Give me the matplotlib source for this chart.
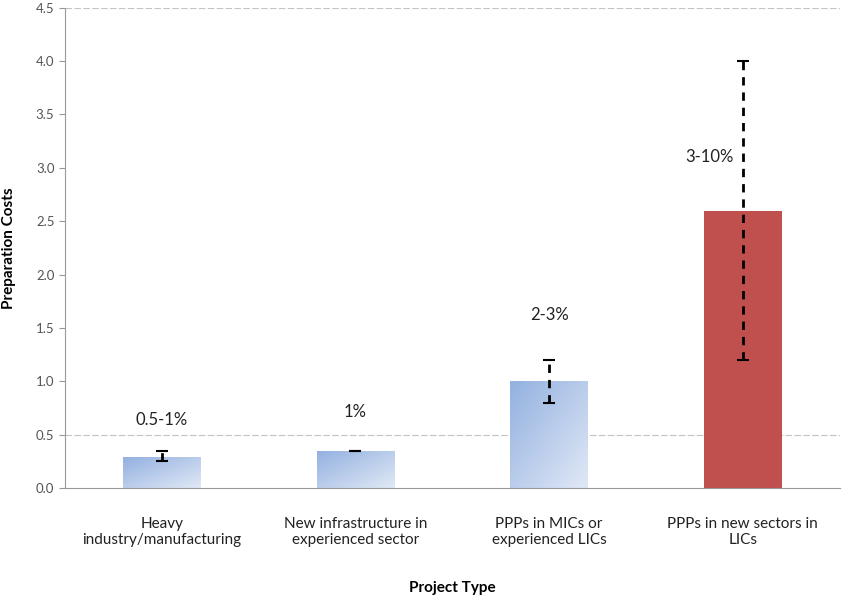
import matplotlib.pyplot as plt
import numpy as np
from matplotlib.colors import LinearSegmentedColormap

categories = ['Heavy\nindustry/manufacturing', 'New infrastructure in\nexperienced sector',
              'PPPs in MICs or\nexperienced LICs', 'PPPs in new sectors in\nLICs']
values = [0.29, 0.35, 1.0, 2.6]
err_low = [0.25, 0.35, 0.8, 1.2]
err_high = [0.35, 0.35, 1.2, 4.0]
range_labels = ['0.5-1%', '1%', '2-3%', '3-10%']
label_y = [0.64, 0.71, 1.62, 3.1]
label_dx = [0, 0, 0, -0.17]


def main():
    plt.rcParams['font.family'] = ['Lato', 'DejaVu Sans']
    fig = plt.figure(figsize=(8.43, 5.98), dpi=100)
    ax = fig.add_axes([0.077, 0.184, 0.919, 0.803])
    x = np.arange(len(categories))
    width = 0.4
    bars = ax.bar(x, values, width, color='#C0504D', zorder=2)
    cmap = LinearSegmentedColormap.from_list('blu', ['#93B1E0', '#E0E8F6'])
    gx, gy = np.meshgrid(np.linspace(0, 1, 50), np.linspace(0, 1, 50))
    grad = (gx + gy) / 2
    for i in range(3):
        b = bars[i]
        b.set_facecolor('none')
        im = ax.imshow(grad, cmap=cmap, aspect='auto', zorder=2,
                       extent=[x[i] - width / 2, x[i] + width / 2, 0, values[i]],
                       origin='upper')
        im.set_clip_path(b)
    yerr = [np.array(values) - np.array(err_low), np.array(err_high) - np.array(values)]
    eb = ax.errorbar(x, values, yerr=yerr, fmt='none', ecolor='black',
                     elinewidth=2, capsize=4.5, capthick=1.5, zorder=3)
    eb[2][0].set_linestyle((0, (3, 2.5)))
    for i, lab in enumerate(range_labels):
        ax.text(x[i] + label_dx[i], label_y[i], lab, ha='center', va='center',
                fontsize=12, color='#222222')
    ax.set_xlim(-0.5, 3.5)
    ax.set_ylim(0, 4.5)
    ax.set_yticks(np.arange(0, 4.51, 0.5))
    ax.set_yticklabels(['{:.1f}'.format(v) for v in np.arange(0, 4.51, 0.5)])
    for yv in [0.5, 4.5]:
        ax.axhline(yv, color='#C4C4C4', linestyle=(0, (6, 2)), linewidth=0.8, zorder=1)
    ax.set_xticks(x)
    ax.set_xticklabels(categories, fontsize=11, color='#222222')
    ax.tick_params(axis='x', length=0, pad=21)
    ax.tick_params(axis='y', labelsize=9.5, colors='#555555', length=4, color='#999999')
    for s in ['top', 'right']:
        ax.spines[s].set_visible(False)
    for s in ['left', 'bottom']:
        ax.spines[s].set_color('#999999')
    ax.set_xlabel('Project Type', fontsize=11, fontweight='bold', labelpad=24)
    ax.set_ylabel('Preparation Costs', fontsize=11, fontweight='bold', labelpad=14)
    fig.savefig('out.png', dpi=100)


if __name__ == '__main__':
    main()
